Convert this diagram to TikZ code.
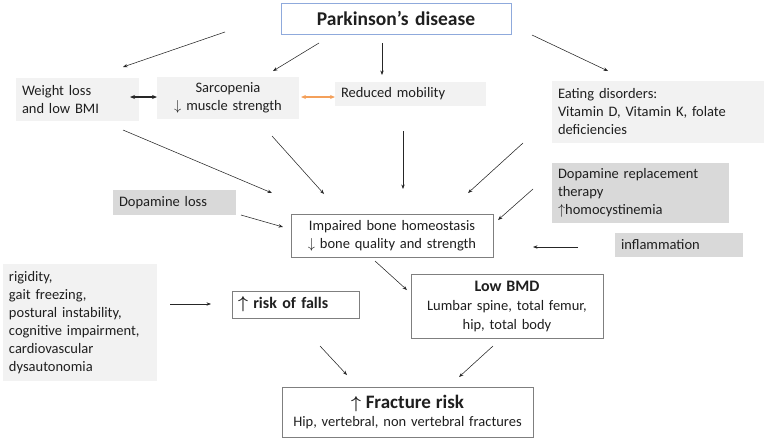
\documentclass[tikz,border=0pt]{standalone}
\usepackage{fontspec}
\setmainfont{Carlito}
\usetikzlibrary{arrows.meta}
\definecolor{lightbox}{HTML}{F2F2F2}
\definecolor{darkbox}{HTML}{D9D9D9}
\definecolor{boxline}{HTML}{7F7F7F}
\definecolor{pdline}{HTML}{8FAADC}
\definecolor{mobarrow}{HTML}{F4A05A}
\begin{document}
\begin{tikzpicture}[x=1pt, y=-1pt, line width=0.6pt,
  txt/.style={font=\fontsize{14.5}{18}\selectfont, inner xsep=6pt, inner ysep=0pt, text=black!88},
  light/.style={txt, fill=lightbox, align=left},
  dark/.style={txt, fill=darkbox, align=left},
  frame/.style={txt, draw=boxline, fill=white, align=center},
  arr/.style={-{Stealth[length=4.5pt,width=3.4pt]}, line width=0.55pt, black!85},
  twoway/.style={arr, {Stealth[length=5pt,width=4pt]}-{Stealth[length=5pt,width=4pt]}, line width=1.1pt}]
  \useasboundingbox (0,0) rectangle (767,440);
  \node[frame, draw=pdline, text width=218pt, minimum height=31pt, font=\fontsize{19.5}{21}\selectfont\bfseries] (pd) at (396,18.5) {Parkinson's disease};
  \node[light, text width=111pt, minimum height=43pt] (wl) at (77.5,99.5) {Weight loss\\and low BMI};
  \node[light, align=center, text width=130pt, minimum height=42pt] (sar) at (228,98) {Sarcopenia\\$\downarrow$ muscle strength};
  \node[light, text width=139pt, minimum height=24pt] (mob) at (410.5,94) {Reduced mobility};
  \node[light, text width=200pt, minimum height=62pt] (eat) at (658,112) {Eating disorders:\\Vitamin D, Vitamin K, folate\\deficiencies};
  \node[dark, text width=111pt, minimum height=25pt] (dl) at (174.5,202.5) {Dopamine loss};
  \node[dark, text width=165pt, minimum height=60pt] (drt) at (640.5,193) {Dopamine replacement\\therapy\\$\uparrow$homocystinemia};
  \node[frame, text width=190pt, minimum height=43pt] (ibh) at (392,235.5) {Impaired bone homeostasis\\$\downarrow$ bone quality and strength};
  \node[dark, text width=116pt, minimum height=24pt] (inf) at (679,245) {inflammation};
  \node[frame, text width=180pt, minimum height=64pt, font=\fontsize{14.5}{19}\selectfont] (bmd) at (507,306) {{\fontsize{16}{19}\selectfont\bfseries Low BMD}\\Lumbar spine, total femur,\\hip, total body};
  \node[light, text width=142pt, minimum height=117pt] (rig) at (80,322.5) {rigidity,\\gait freezing,\\postural instability,\\cognitive impairment,\\cardiovascular\\dysautonomia};
  \node[frame, align=left, text width=115pt, minimum height=27pt, font=\fontsize{16}{18}\selectfont\bfseries] (fall) at (295.5,304.5) {{\boldmath$\uparrow$} risk of falls};
  \node[frame, text width=239pt, minimum height=50pt] (frac) at (407.5,412) {{\fontsize{19}{21}\selectfont\bfseries{\boldmath$\uparrow$} Fracture risk}\\\fontsize{14.5}{15}\selectfont Hip, vertebral, non vertebral fractures};
  \coordinate (pd-wl1) at (225,32);  \coordinate (pd-wl2) at (123,67);
  \coordinate (pd-sar1) at (319,43); \coordinate (pd-sar2) at (273,71);
  \coordinate (pd-mob1) at (382,43); \coordinate (pd-mob2) at (382,75);
  \coordinate (pd-eat1) at (532,35); \coordinate (pd-eat2) at (608,71);
  \coordinate (wl-sar1) at (130,97); \coordinate (wl-sar2) at (157,97);
  \coordinate (sar-mob1) at (301,97); \coordinate (sar-mob2) at (335,97);
  \coordinate (wl-ibh1) at (123,130); \coordinate (wl-ibh2) at (272,193);
  \coordinate (sar-ibh1) at (272,136); \coordinate (sar-ibh2) at (324,194);
  \coordinate (mob-ibh1) at (403,131); \coordinate (mob-ibh2) at (403,189);
  \coordinate (eat-ibh1) at (523,143); \coordinate (eat-ibh2) at (468,193);
  \coordinate (dl-ibh1) at (241,215); \coordinate (dl-ibh2) at (283,227);
  \coordinate (drt-ibh1) at (533,189); \coordinate (drt-ibh2) at (498,220);
  \coordinate (inf-ibh1) at (578,247); \coordinate (inf-ibh2) at (533,247);
  \coordinate (ibh-bmd1) at (375,261); \coordinate (ibh-bmd2) at (407,290);
  \coordinate (rig-fall1) at (170,304); \coordinate (rig-fall2) at (211,304);
  \coordinate (fall-frac1) at (320,346); \coordinate (fall-frac2) at (347,375);
  \coordinate (bmd-frac1) at (493,346); \coordinate (bmd-frac2) at (459,377);
  \draw[arr] (pd-wl1) -- (pd-wl2);
  \draw[arr] (pd-sar1) -- (pd-sar2);
  \draw[arr] (pd-mob1) -- (pd-mob2);
  \draw[arr] (pd-eat1) -- (pd-eat2);
  \draw[twoway] (wl-sar1) -- (wl-sar2);
  \draw[twoway, mobarrow] (sar-mob1) -- (sar-mob2);
  \draw[arr] (wl-ibh1) -- (wl-ibh2);
  \draw[arr] (sar-ibh1) -- (sar-ibh2);
  \draw[arr] (mob-ibh1) -- (mob-ibh2);
  \draw[arr] (eat-ibh1) -- (eat-ibh2);
  \draw[arr] (dl-ibh1) -- (dl-ibh2);
  \draw[arr] (drt-ibh1) -- (drt-ibh2);
  \draw[arr] (inf-ibh1) -- (inf-ibh2);
  \draw[arr] (ibh-bmd1) -- (ibh-bmd2);
  \draw[arr] (rig-fall1) -- (rig-fall2);
  \draw[arr] (fall-frac1) -- (fall-frac2);
  \draw[arr] (bmd-frac1) -- (bmd-frac2);
\end{tikzpicture}
\end{document}
